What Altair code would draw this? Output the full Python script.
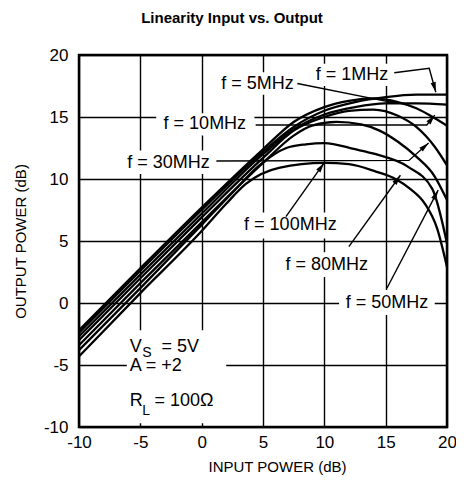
import altair as alt
import numpy as np
import pandas as pd

# ---------------- data ----------------
X_1MHZ = [-10, -5, 0, 5, 7.5, 10, 12.5, 15, 17.5, 20]
Y_1MHZ = [-2.4, 2.6, 7.5, 12.2, 14.2, 15.5, 16.2, 16.6, 16.8, 16.8]

X_5MHZ = [-10, -5, 0, 5, 7.5, 10, 12.5, 15, 17.5, 20]
Y_5MHZ = [-2.7, 2.3, 7.2, 12.0, 14.0, 15.2, 15.8, 16.1, 16.1, 16.0]

X_10MHZ = [-10, -5, 0, 5, 7.5, 10, 12, 14, 16, 17.5, 19, 20]
Y_10MHZ = [-2.2, 2.8, 7.7, 12.4, 14.6, 15.8, 16.3, 16.5, 16.2, 15.7, 14.9, 14.3]

X_30MHZ = [-10, -5, 0, 5, 7.5, 10, 12, 14, 16, 17.5, 19, 20]
Y_30MHZ = [-3.0, 2.0, 6.9, 11.7, 13.9, 15.0, 15.5, 15.6, 15.1, 14.2, 12.6, 11.1]

X_50MHZ = [-10, -5, 0, 5, 7.5, 9, 11, 13, 14.5, 16, 17.5, 19, 20]
Y_50MHZ = [-3.4, 1.6, 6.5, 11.3, 13.5, 14.3, 14.6, 14.4, 13.9, 13.0, 11.8, 10.2, 8.3]

X_80MHZ = [-10, -5, 0, 2.5, 4.7, 6.9, 8.5, 10, 12.5, 14.2, 16.8, 18.8, 20]
Y_80MHZ = [-3.8, 1.2, 6.3, 8.9, 11.1, 12.5, 12.8, 12.9, 12.4, 12.0, 11.0, 9.2, 4.8]

X_100MHZ = [-10, -5, 0, 2, 3.6, 6.3, 10, 12, 14.2, 15.8, 17, 18.2, 19.2, 20]
Y_100MHZ = [-4.3, 0.8, 5.8, 8.0, 9.6, 10.9, 11.3, 11.2, 10.6, 10.0, 9.2, 8.0, 6.0, 2.9]

SERIES = ["1MHz", "5MHz", "10MHz", "30MHz", "50MHz", "80MHz", "100MHz"]
SERIES_X = [X_1MHZ, X_5MHZ, X_10MHZ, X_30MHZ, X_50MHZ, X_80MHZ, X_100MHZ]
SERIES_Y = [Y_1MHZ, Y_5MHZ, Y_10MHZ, Y_30MHZ, Y_50MHZ, Y_80MHZ, Y_100MHZ]

# curve labels (centre positions, data units)
LABELS = ["f = 1MHz", "f = 5MHz", "f = 10MHz", "f = 30MHz", "f = 100MHz", "f = 80MHz", "f = 50MHz"]
LABEL_X = [12.26, 4.56, 0.26, -2.7, 7.23, 10.2, 15.1]
LABEL_Y = [18.39, 17.7, 14.4, 11.3, 6.29, 3.1, 0.04]
# white boxes behind labels (they interrupt the grid)
BOX_X1 = [8.7, 1.0, -3.7, -6.75, 3.4, 6.3, 11.2, -6.1]
BOX_X2 = [15.8, 8.1, 4.3, 1.35, 11.1, 14.2, 19.0, 2.0]
BOX_Y1 = [17.5, 16.8, 13.5, 10.4, 5.2, 2.1, -0.97, -9.7]
BOX_Y2 = [19.3, 18.6, 15.3, 12.3, 7.3, 4.1, 1.05, -2.2]

# leader lines (last point = arrow tip)
LEADER_X = [[15.7, 18.55, 19.09], [7.8, 15.9], [4.4, 18.35, 19.0], [1.2, 16.9, 18.5],
            [6.87, 9.98], [12.0, 16.2], [15.1, 19.28]]
LEADER_Y = [[18.57, 18.93, 17.0], [17.7, 16.1], [14.35, 14.35, 15.15], [11.45, 11.5, 12.9],
            [6.96, 11.3], [4.54, 10.3], [1.19, 9.1]]

# condition notes
NOTE_MAIN = ["V", "= 5V", "A = +2", "R", "= 100\u03a9"]
NOTE_MAIN_X = [-5.86, -3.27, -5.86, -5.86, -3.84]
NOTE_MAIN_Y = [-3.51, -3.55, -5.08, -7.94, -7.9]
NOTE_SUB = ["S", "L"]
NOTE_SUB_X = [-4.85, -4.85]
NOTE_SUB_Y = [-4.05, -8.71]

X_TICKS = [-10, -5, 0, 5, 10, 15, 20]
Y_TICKS = [-10, -5, 0, 5, 10, 15, 20]

# ---------------- tables ----------------
W, H = 368, 372
SX, SY = W / 30.0, H / 30.0
FONT = "Liberation Sans"

curve_rows = []
for name, xs, ys in zip(SERIES, SERIES_X, SERIES_Y):
    for i, (xv, yv) in enumerate(zip(xs, ys)):
        curve_rows.append({"f": name, "x": xv, "y": yv, "o": i})
curves = pd.DataFrame(curve_rows)

labels = pd.DataFrame({"t": LABELS, "x": LABEL_X, "y": LABEL_Y})
boxes = pd.DataFrame({"x": BOX_X1, "x2": BOX_X2, "y": BOX_Y1, "y2": BOX_Y2})

lead_rows, tip_rows = [], []
for k, (lx, ly) in enumerate(zip(LEADER_X, LEADER_Y)):
    for i, (xv, yv) in enumerate(zip(lx, ly)):
        lead_rows.append({"k": k, "x": xv, "y": yv, "o": i})
    dx = (lx[-1] - lx[-2]) * SX
    dy = (ly[-1] - ly[-2]) * SY
    ang = float(np.degrees(np.arctan2(dx, dy))) % 360
    tip_rows.append({"x": lx[-1], "y": ly[-1], "ang": ang})
leaders = pd.DataFrame(lead_rows)
tips = pd.DataFrame(tip_rows)

notes = pd.DataFrame({"t": NOTE_MAIN, "x": NOTE_MAIN_X, "y": NOTE_MAIN_Y})
subs = pd.DataFrame({"t": NOTE_SUB, "x": NOTE_SUB_X, "y": NOTE_SUB_Y})

# ---------------- encodings ----------------
xscale = alt.Scale(domain=[-10, 20], nice=False, zero=False)
yscale = alt.Scale(domain=[-10, 20], nice=False, zero=False)
xaxis = alt.Axis(values=X_TICKS, title="INPUT POWER (dB)", grid=True, ticks=False,
                 domain=False, labelPadding=7, titlePadding=9, zindex=0, labelFlush=False,
                 labelExpr="datum.value + ''", titleX=198)
yaxis = alt.Axis(values=Y_TICKS, title="OUTPUT POWER (dB)", grid=True, ticks=False,
                 domain=False, labelPadding=11, titlePadding=15, zindex=0, labelFlush=False,
                 labelExpr="datum.value + ''")


def X(field="x"):
    return alt.X(f"{field}:Q", scale=xscale, axis=xaxis)


def Y(field="y"):
    return alt.Y(f"{field}:Q", scale=yscale, axis=yaxis)


box_layer = alt.Chart(boxes).mark_rect(color="white", opacity=1).encode(
    x=X(), x2="x2:Q", y=Y(), y2="y2:Q")

curve_layer = alt.Chart(curves).mark_line(
    color="black", strokeWidth=2.3, interpolate="monotone").encode(
    x=X(), y=Y(), detail="f:N", order="o:Q")

leader_layer = alt.Chart(leaders).mark_line(color="black", strokeWidth=1.4).encode(
    x=X(), y=Y(), detail="k:N", order="o:Q")

tip_layer = alt.Chart(tips).mark_point(
    shape="M0,0L0.65,2.5L-0.65,2.5Z", size=64, filled=True, color="black", opacity=1,
    strokeWidth=0).encode(x=X(), y=Y(), angle=alt.Angle("ang:Q", scale=None))

label_layer = alt.Chart(labels).mark_text(
    font=FONT, fontSize=18, color="black", align="center", baseline="middle").encode(
    x=X(), y=Y(), text="t:N")

note_layer = alt.Chart(notes).mark_text(
    font=FONT, fontSize=18, color="black", align="left", baseline="middle").encode(
    x=X(), y=Y(), text="t:N")

sub_layer = alt.Chart(subs).mark_text(
    font=FONT, fontSize=14, color="black", align="left", baseline="middle").encode(
    x=X(), y=Y(), text="t:N")

title_layer = alt.Chart(pd.DataFrame({"t": ["Linearity Input vs. Output"]})).mark_text(
    font=FONT, fontSize=15, fontWeight="bold", color="black", align="center",
    baseline="middle").encode(x=alt.value(153), y=alt.value(-37), text="t:N")

chart = alt.layer(
    box_layer, curve_layer, leader_layer, tip_layer, label_layer, note_layer, sub_layer,
    title_layer
).properties(
    width=W, height=H,
    autosize=alt.AutoSizeParams(type="none"),
    padding={"left": 71, "top": 47, "right": 9, "bottom": 52},
    background="white",
).configure_view(
    stroke="black", strokeWidth=2.5
).configure_axis(
    gridColor="black", gridWidth=1.4, gridOpacity=1,
    labelFont=FONT, labelFontSize=17, labelColor="black",
    titleFont=FONT, titleFontSize=15, titleFontWeight="normal", titleColor="black",
)

chart.save("out.html", embed_options={"renderer": "svg", "actions": False})
